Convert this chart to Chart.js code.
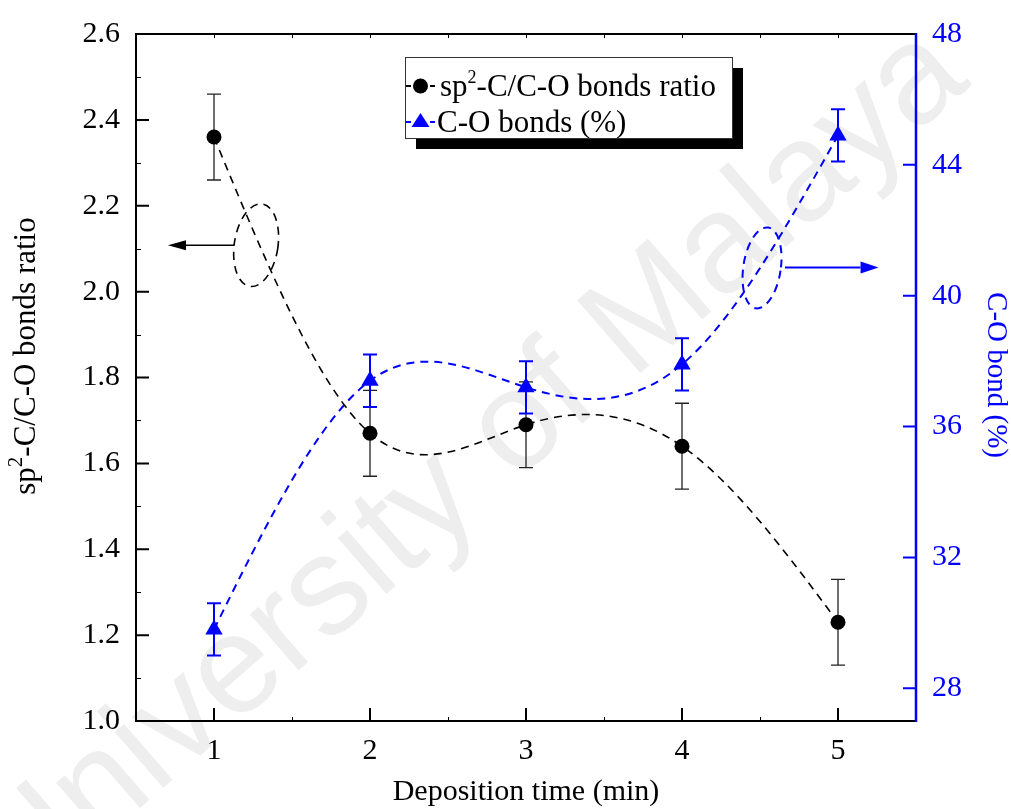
<!DOCTYPE html>
<html>
<head>
<meta charset="utf-8">
<script src="https://cdn.jsdelivr.net/npm/chart.js@4.4.0/dist/chart.umd.min.js"></script>
<style>
  html, body { margin: 0; padding: 0; background: #ffffff; }
  #wrap { width: 1011px; height: 809px; }
</style>
</head>
<body>
<div id="wrap"><canvas id="c" width="1011" height="809"></canvas></div>
<script>
// Deposition time (min)
const depositionTime = [1, 2, 3, 4, 5];
// sp2-C / C-O bonds ratio with error
const sp2Ratio = [2.36, 1.67, 1.69, 1.64, 1.23];
const sp2RatioErr = [0.10, 0.10, 0.10, 0.10, 0.10];
// C-O bonds (%) with error
const coBonds = [29.8, 37.4, 37.2, 37.9, 44.9];
const coBondsErr = [0.8, 0.8, 0.8, 0.8, 0.8];

// Axis ticks
const xTicks = [1, 2, 3, 4, 5];
const leftTicks = [1.0, 1.2, 1.4, 1.6, 1.8, 2.0, 2.2, 2.4, 2.6];
const rightTicks = [28, 32, 36, 40, 44, 48];

const SERIF = "'Liberation Serif', 'Times New Roman', serif";
const BLUE = '#0000ff';

// Background watermark text
const watermarkPlugin = {
  id: 'watermark',
  beforeDraw(chart) {
    const ctx = chart.ctx;
    ctx.save();
    ctx.fillStyle = '#ffffff';
    ctx.fillRect(0, 0, chart.width, chart.height);
    ctx.translate(520, 430);
    ctx.rotate(-41 * Math.PI / 180);
    ctx.font = "140px 'Liberation Sans', Arial, sans-serif";
    ctx.fillStyle = '#eeeeee';
    ctx.textBaseline = 'alphabetic';
    ctx.textAlign = 'left';
    const pre = ctx.measureText('University o').width - ctx.measureText('o').width / 2;
    ctx.fillText('University of Malaya', -pre, 36);
    ctx.restore();
  }
};

// Smooth the dashed lines with a natural cubic spline through the data points
const splinePlugin = {
  id: 'naturalSpline',
  beforeDatasetDraw(chart, args) {
    const meta = args.meta;
    const pts = meta.data;
    const n = pts.length;
    if (n < 3) return;
    const h = [], M = new Array(n).fill(0);
    for (let i = 0; i < n - 1; i++) h.push(pts[i + 1].x - pts[i].x);
    // tridiagonal solve for second derivatives (natural end conditions)
    const a = [], b = [], c = [], d = [];
    for (let i = 1; i < n - 1; i++) {
      a.push(h[i - 1]); b.push(2 * (h[i - 1] + h[i])); c.push(h[i]);
      d.push(6 * ((pts[i + 1].y - pts[i].y) / h[i] - (pts[i].y - pts[i - 1].y) / h[i - 1]));
    }
    const m = b.length;
    for (let i = 1; i < m; i++) {
      const w = a[i] / b[i - 1];
      b[i] -= w * c[i - 1];
      d[i] -= w * d[i - 1];
    }
    const sol = new Array(m);
    sol[m - 1] = d[m - 1] / b[m - 1];
    for (let i = m - 2; i >= 0; i--) sol[i] = (d[i] - c[i] * sol[i + 1]) / b[i];
    for (let i = 0; i < m; i++) M[i + 1] = sol[i];
    const slope = [];
    for (let i = 0; i < n - 1; i++) {
      slope.push((pts[i + 1].y - pts[i].y) / h[i] - h[i] * (2 * M[i] + M[i + 1]) / 6);
    }
    slope.push((pts[n - 1].y - pts[n - 2].y) / h[n - 2] + h[n - 2] * (M[n - 2] + 2 * M[n - 1]) / 6);
    for (let i = 0; i < n; i++) {
      const p = pts[i];
      const hp = i > 0 ? h[i - 1] : 0, hn = i < n - 1 ? h[i] : 0;
      p.cp1x = p.x - hp / 3; p.cp1y = p.y - slope[i] * hp / 3;
      p.cp2x = p.x + hn / 3; p.cp2y = p.y + slope[i] * hn / 3;
    }
    meta.dataset._pointsUpdated = true;
    meta.dataset._path = undefined;
  }
};

// Vertical error bars behind the markers
const errorBarPlugin = {
  id: 'errorBars',
  beforeDatasetsDraw(chart) {
    const ctx = chart.ctx;
    const xs = chart.scales.x;
    chart.data.datasets.forEach((ds) => {
      const ys = chart.scales[ds.yAxisID];
      ctx.save();
      ctx.strokeStyle = ds.errColor;
      ctx.lineWidth = ds.errWidth;
      ds.data.forEach((p, i) => {
        const x = xs.getPixelForValue(p.x);
        const yTop = ys.getPixelForValue(p.y + ds.err[i]);
        const yBot = ys.getPixelForValue(p.y - ds.err[i]);
        ctx.beginPath();
        ctx.moveTo(x, yTop); ctx.lineTo(x, yBot);
        ctx.moveTo(x - 7, yTop); ctx.lineTo(x + 7, yTop);
        ctx.moveTo(x - 7, yBot); ctx.lineTo(x + 7, yBot);
        ctx.stroke();
      });
      ctx.restore();
    });
  }
};

// Frame, inward tick marks, axis titles, legend and annotations
const decorPlugin = {
  id: 'decor',
  afterDraw(chart) {
    const ctx = chart.ctx;
    const a = chart.chartArea;
    const xs = chart.scales.x, yl = chart.scales.y, yr = chart.scales.y2;
    ctx.save();

    // inward ticks
    ctx.lineWidth = 2;
    ctx.strokeStyle = '#000';
    ctx.beginPath();
    leftTicks.forEach(v => { const y = yl.getPixelForValue(v); ctx.moveTo(a.left, y); ctx.lineTo(a.left + 13, y); });
    xTicks.forEach(v => { const x = xs.getPixelForValue(v); ctx.moveTo(x, a.bottom); ctx.lineTo(x, a.bottom - 13); });
    ctx.stroke();
    ctx.lineWidth = 1;
    ctx.beginPath();
    for (let v = 1.1; v < 2.6; v += 0.2) { const y = Math.round(yl.getPixelForValue(v)) + 0.5; ctx.moveTo(a.left, y); ctx.lineTo(a.left + 5, y); }
    for (let v = 1; v <= 5.01; v += 0.5) { const x = Math.round(xs.getPixelForValue(v)) + 0.5; ctx.moveTo(x, a.top); ctx.lineTo(x, a.top + 4); }
    for (let v = 1.5; v <= 5.01; v += 1) { const x = Math.round(xs.getPixelForValue(v)) + 0.5; ctx.moveTo(x, a.bottom); ctx.lineTo(x, a.bottom - 4); }
    ctx.stroke();
    ctx.strokeStyle = BLUE;
    ctx.lineWidth = 2;
    ctx.beginPath();
    rightTicks.forEach(v => { const y = yr.getPixelForValue(v); ctx.moveTo(a.right, y); ctx.lineTo(a.right - 13, y); });
    ctx.stroke();

    // frame
    ctx.strokeStyle = '#000';
    ctx.lineWidth = 2;
    ctx.beginPath();
    ctx.moveTo(a.right, a.top); ctx.lineTo(a.left, a.top); ctx.lineTo(a.left, a.bottom); ctx.lineTo(a.right, a.bottom);
    ctx.stroke();
    ctx.strokeStyle = BLUE;
    ctx.lineWidth = 2.5;
    ctx.beginPath();
    ctx.moveTo(a.right, a.top - 1); ctx.lineTo(a.right, a.bottom + 1);
    ctx.stroke();

    // axis titles
    ctx.fillStyle = '#000';
    ctx.textBaseline = 'alphabetic';
    ctx.font = `30px ${SERIF}`;
    ctx.textAlign = 'center';
    ctx.fillText('Deposition time (min)', (a.left + a.right) / 2, 800);

    // left title with superscript 2
    const base = `31px ${SERIF}`, sup = `21px ${SERIF}`;
    ctx.font = base; const w1 = ctx.measureText('sp').width; const w3 = ctx.measureText('-C/C-O bonds ratio').width;
    ctx.font = sup; const w2 = ctx.measureText('2').width;
    const total = w1 + w2 + w3;
    ctx.save();
    ctx.translate(35, 356);
    ctx.rotate(-Math.PI / 2);
    ctx.textAlign = 'left';
    let px = -total / 2;
    ctx.font = base; ctx.fillText('sp', px, 0); px += w1;
    ctx.font = sup; ctx.fillText('2', px, -13); px += w2;
    ctx.font = base; ctx.fillText('-C/C-O bonds ratio', px, 0);
    ctx.restore();

    // right title
    ctx.save();
    ctx.fillStyle = BLUE;
    ctx.translate(988, 375);
    ctx.rotate(Math.PI / 2);
    ctx.font = `29px ${SERIF}`;
    ctx.textAlign = 'center';
    ctx.fillText('C-O bond (%)', 0, 0);
    ctx.restore();

    // legend box with shadow
    const lx = 405, ly = 57, lw = 327, lh = 81;
    ctx.fillStyle = '#000';
    ctx.fillRect(lx + 11, ly + 11, lw, lh);
    ctx.fillStyle = '#fff';
    ctx.fillRect(lx, ly, lw, lh);
    ctx.strokeStyle = '#333';
    ctx.lineWidth = 1;
    ctx.strokeRect(lx + 0.5, ly + 0.5, lw, lh);

    const rows = [
      { y: 86, color: '#000', marker: 'circle' },
      { y: 122, color: BLUE, marker: 'triangle' }
    ];
    rows.forEach(r => {
      ctx.strokeStyle = r.color; ctx.fillStyle = r.color; ctx.lineWidth = 2;
      ctx.beginPath();
      ctx.moveTo(406, r.y); ctx.lineTo(411, r.y);
      ctx.moveTo(430, r.y); ctx.lineTo(435, r.y);
      ctx.stroke();
      ctx.beginPath();
      if (r.marker === 'circle') {
        ctx.arc(420.5, r.y, 7.5, 0, Math.PI * 2);
      } else {
        ctx.moveTo(420.5, r.y - 9); ctx.lineTo(429.5, r.y + 5); ctx.lineTo(411.5, r.y + 5); ctx.closePath();
      }
      ctx.fill();
    });
    ctx.fillStyle = '#000';
    ctx.textAlign = 'left';
    ctx.font = base; ctx.fillText('sp', 440, 96);
    let lxp = 440 + ctx.measureText('sp').width;
    ctx.font = `18px ${SERIF}`; ctx.fillText('2', lxp, 83); lxp += ctx.measureText('2').width;
    ctx.font = base; ctx.fillText('-C/C-O bonds ratio', lxp, 96);
    ctx.fillText('C-O bonds (%)', 437, 132);

    // annotation ellipses and arrows
    const drawEllipse = (xsc, ysc, cx, cy, dx, dy, rot, color, lw) => {
      const px = xsc.getPixelForValue(cx), py = ysc.getPixelForValue(cy);
      const rx = Math.abs(xsc.getPixelForValue(cx + dx) - px);
      const ry = Math.abs(ysc.getPixelForValue(cy + dy) - py);
      ctx.save();
      ctx.strokeStyle = color; ctx.lineWidth = lw; ctx.setLineDash([8, 6]);
      ctx.beginPath(); ctx.ellipse(px, py, rx, ry, rot, 0, Math.PI * 2); ctx.stroke();
      ctx.restore();
    };
    const drawArrow = (xsc, ysc, x0, x1, yv, color, lw, headLen, headHalf) => {
      const p0 = xsc.getPixelForValue(x0), p1 = xsc.getPixelForValue(x1), py = ysc.getPixelForValue(yv);
      const dir = Math.sign(p1 - p0);
      ctx.save();
      ctx.strokeStyle = color; ctx.fillStyle = color; ctx.lineWidth = lw;
      ctx.beginPath(); ctx.moveTo(p0, py); ctx.lineTo(p1 - dir * headLen, py); ctx.stroke();
      ctx.beginPath(); ctx.moveTo(p1, py); ctx.lineTo(p1 - dir * headLen, py - headHalf); ctx.lineTo(p1 - dir * headLen, py + headHalf); ctx.closePath(); ctx.fill();
      ctx.restore();
    };
    drawEllipse(xs, yl, 1.27, 2.108, 0.14, 0.097, 0.15, '#000', 1.6);
    drawArrow(xs, yl, 1.13, 0.705, 2.108, '#000', 1.4, 18, 5);
    drawEllipse(xs, yr, 4.513, 40.85, 0.12, 1.25, 0.15, BLUE, 2);
    drawArrow(xs, yr, 4.66, 5.26, 40.86, BLUE, 2, 18, 6);

    ctx.restore();
  }
};

const toPoints = (xv, yv) => xv.map((x, i) => ({ x, y: yv[i] }));

new Chart(document.getElementById('c'), {
  type: 'line',
  data: {
    datasets: [
      {
        label: 'sp2-C/C-O bonds ratio',
        data: toPoints(depositionTime, sp2Ratio),
        err: sp2RatioErr,
        errColor: '#222',
        errWidth: 1.3,
        yAxisID: 'y',
        borderColor: '#000',
        backgroundColor: '#000',
        borderWidth: 1.6,
        borderDash: [8, 6],
        tension: 0.4,
        pointStyle: 'circle',
        pointRadius: 7.5,
        pointBorderWidth: 0,
        pointBackgroundColor: '#000'
      },
      {
        label: 'C-O bonds (%)',
        data: toPoints(depositionTime, coBonds),
        err: coBondsErr,
        errColor: BLUE,
        errWidth: 2,
        yAxisID: 'y2',
        borderColor: BLUE,
        backgroundColor: BLUE,
        borderWidth: 2,
        borderDash: [8, 6],
        tension: 0.4,
        pointStyle: 'triangle',
        pointRadius: 10,
        pointBorderWidth: 0,
        pointBackgroundColor: BLUE
      }
    ]
  },
  options: {
    responsive: false,
    animation: false,
    devicePixelRatio: 1,
    layout: { padding: { top: 31, left: 0, right: 0, bottom: 0 } },
    plugins: { legend: { display: false }, tooltip: { enabled: false } },
    scales: {
      x: {
        type: 'linear', position: 'bottom', min: 0.5, max: 5.5,
        afterFit(s) { s.height = 88; },
        afterBuildTicks(s) { s.ticks = xTicks.map(v => ({ value: v })); },
        grid: { display: false, drawTicks: false },
        border: { display: false },
        ticks: { color: '#000', padding: 12, font: { family: SERIF, size: 30 }, callback: v => String(v) }
      },
      y: {
        type: 'linear', position: 'left', min: 1.0, max: 2.6,
        afterFit(s) { s.width = 136; },
        afterBuildTicks(s) { s.ticks = leftTicks.map(v => ({ value: v })); },
        grid: { display: false, drawTicks: false },
        border: { display: false },
        ticks: { color: '#000', padding: 16, font: { family: SERIF, size: 30 }, callback: v => Number(v).toFixed(1) }
      },
      y2: {
        type: 'linear', position: 'right', min: 27, max: 48,
        afterFit(s) { s.width = 95; },
        afterBuildTicks(s) { s.ticks = rightTicks.map(v => ({ value: v })); },
        grid: { display: false, drawTicks: false },
        border: { display: false },
        ticks: { color: BLUE, padding: 16, font: { family: SERIF, size: 30 }, callback: v => String(v) }
      }
    }
  },
  plugins: [watermarkPlugin, errorBarPlugin, splinePlugin, decorPlugin]
});
</script>
</body>
</html>
